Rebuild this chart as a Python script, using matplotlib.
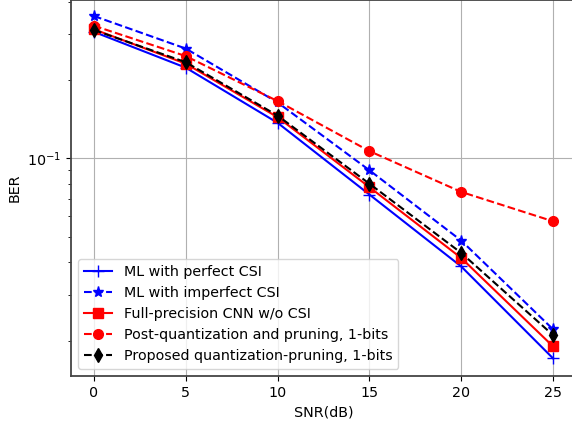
import numpy as np
import matplotlib
matplotlib.use('Agg')
import matplotlib.pyplot as plt

snr = [0, 5, 10, 15, 20, 25]

# 값은 그림에서 읽은 추정치
ber_ml_perfect = [0.306, 0.223, 0.137, 0.0727, 0.0385, 0.0171]
ber_ml_imperfect = [0.352, 0.264, 0.164, 0.0901, 0.0484, 0.0221]
ber_cnn_full = [0.313, 0.231, 0.144, 0.0776, 0.0415, 0.0190]
ber_post_quant = [0.323, 0.247, 0.166, 0.1067, 0.0744, 0.0574]
ber_proposed = [0.311, 0.234, 0.146, 0.0800, 0.0434, 0.0210]

labels = ['ML with perfect CSI',
          'ML with imperfect CSI',
          'Full-precision CNN w/o CSI',
          'Post-quantization and pruning, 1-bits',
          'Proposed quantization-pruning, 1-bits']

plt.rcParams['font.size'] = 10.3

fig = plt.figure(figsize=(5.72, 4.23), dpi=100)
ax = fig.add_axes([71 / 572, 47 / 423, 505 / 572, 376 / 423])

ax.plot(snr, ber_ml_perfect, 'b-', marker='+', markersize=8, label=labels[0])
ax.plot(snr, ber_ml_imperfect, 'b--', marker='*', markersize=8, label=labels[1])
ax.plot(snr, ber_cnn_full, 'r-', marker='s', markersize=7, label=labels[2])
ax.plot(snr, ber_post_quant, 'r--', marker='o', markersize=7, label=labels[3])
ax.plot(snr, ber_proposed, 'k--', marker='d', markersize=7, label=labels[4])

ax.set_yscale('log')
ax.set_ylim(0.01463, 0.4055)
ax.set_xlim(-1.25, 26.25)
ax.set_xticks(snr)
ax.grid(True)
for s in ax.spines.values():
    s.set_linewidth(1.3)
    s.set_color('#444444')
ax.set_xlabel('SNR(dB)')
ax.set_ylabel('BER')
ax.legend(loc='lower left')

fig.savefig('out.png', dpi=100)
